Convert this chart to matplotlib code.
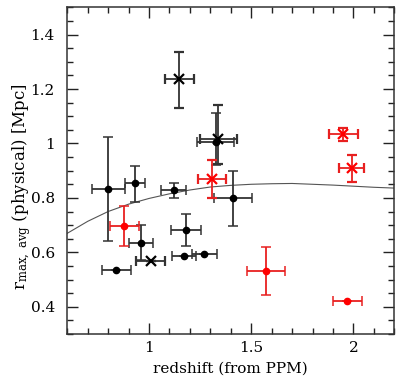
import matplotlib
matplotlib.use("Agg")
import matplotlib.pyplot as plt
from matplotlib.ticker import MultipleLocator, FuncFormatter

plt.rcParams['font.family'] = ['DejaVu Serif']
plt.rcParams['mathtext.fontset'] = 'dejavuserif'

# black filled circles
bd_x = [0.80, 0.93, 1.12, 1.327, 1.41, 1.18, 0.96, 0.84, 1.17, 1.27]
bd_y = [0.832, 0.853, 0.828, 1.006, 0.798, 0.683, 0.636, 0.536, 0.586, 0.595]
bd_ylo = [0.19, 0.067, 0.028, 0.085, 0.10, 0.059, 0.065, 0.0, 0.0, 0.0]
bd_yhi = [0.19, 0.065, 0.027, 0.106, 0.099, 0.057, 0.064, 0.0, 0.0, 0.0]
bd_xerr = [0.08, 0.05, 0.062, 0.09, 0.092, 0.073, 0.06, 0.072, 0.06, 0.061]

# black crosses
bx_x = [1.148, 1.339, 1.008]
bx_y = [1.235, 1.018, 0.568]
bx_ylo = [0.103, 0.094, 0.0]
bx_yhi = [0.101, 0.125, 0.0]
bx_xerr = [0.07, 0.09, 0.07]

# red filled circles
rd_x = [0.879, 1.571, 1.97]
rd_y = [0.696, 0.531, 0.421]
rd_yerr = [0.073, 0.087, 0.0]
rd_xerr = [0.07, 0.092, 0.07]

# red crosses
rx_x = [1.308, 1.95, 1.991]
rx_y = [0.87, 1.033, 0.908]
rx_yerr = [0.07, 0.025, 0.051]
rx_xerr = [0.07, 0.07, 0.062]

# reference curve
cv_x = [0.6, 0.7, 0.8, 0.9, 1.0, 1.1, 1.2, 1.3, 1.4, 1.5, 1.6, 1.7, 1.8, 1.9, 2.0, 2.1, 2.2]
cv_y = [0.670, 0.714, 0.750, 0.777, 0.798, 0.815, 0.829, 0.840, 0.846, 0.850, 0.852,
        0.853, 0.850, 0.847, 0.843, 0.839, 0.836]

fig = plt.figure(figsize=(3.99, 3.86), dpi=100)
ax = fig.add_axes([0.1687, 0.1347, 0.8195, 0.8463])

ax.plot(cv_x, cv_y, color='#555555', lw=0.8, zorder=1)

ekw = dict(capsize=3.3, elinewidth=1.3, capthick=1.1, linestyle='none', zorder=3)
ax.errorbar(bd_x, bd_y, yerr=[bd_ylo, bd_yhi], xerr=bd_xerr, fmt='o', ms=4.5,
            color='black', ecolor='#333333', **ekw)
ax.errorbar(bx_x, bx_y, yerr=[bx_ylo, bx_yhi], xerr=bx_xerr, fmt='x', ms=7, mew=1.6,
            color='black', ecolor='#333333', **ekw)
ax.errorbar(rd_x, rd_y, yerr=rd_yerr, xerr=rd_xerr, fmt='o', ms=4.5,
            color='#ff0000', ecolor='#e82020', **ekw)
ax.errorbar(rx_x, rx_y, yerr=rx_yerr, xerr=rx_xerr, fmt='x', ms=7, mew=1.6,
            color='#ff0000', ecolor='#e82020', **ekw)

ax.set_xlim(0.6, 2.2)
ax.set_ylim(0.3, 1.5)
ax.xaxis.set_major_locator(MultipleLocator(0.5))
ax.xaxis.set_minor_locator(MultipleLocator(0.1))
ax.yaxis.set_major_locator(MultipleLocator(0.2))
ax.yaxis.set_minor_locator(MultipleLocator(0.05))
fmt = FuncFormatter(lambda v, p: '%g' % round(v, 3))
ax.xaxis.set_major_formatter(fmt)
ax.yaxis.set_major_formatter(fmt)
ax.tick_params(which='both', direction='in', top=True, right=True, width=1, color='#222222')
ax.tick_params(which='major', length=8, labelsize=11)
ax.tick_params(which='minor', length=4)
ax.tick_params(axis='y', which='major', pad=9)
ax.tick_params(axis='x', which='major', pad=5)
for s in ax.spines.values():
    s.set_linewidth(1.1)
    s.set_color('#333333')

ax.set_xlabel('redshift (from PPM)', fontsize=11)
ax.xaxis.set_label_coords(0.5, -0.085)
ax.set_ylabel(r'r$_{\mathrm{max,\ avg}}$ (physical) [Mpc]', fontsize=12)
ax.yaxis.set_label_coords(-0.105, 0.45)

fig.savefig('out.png', dpi=100)
